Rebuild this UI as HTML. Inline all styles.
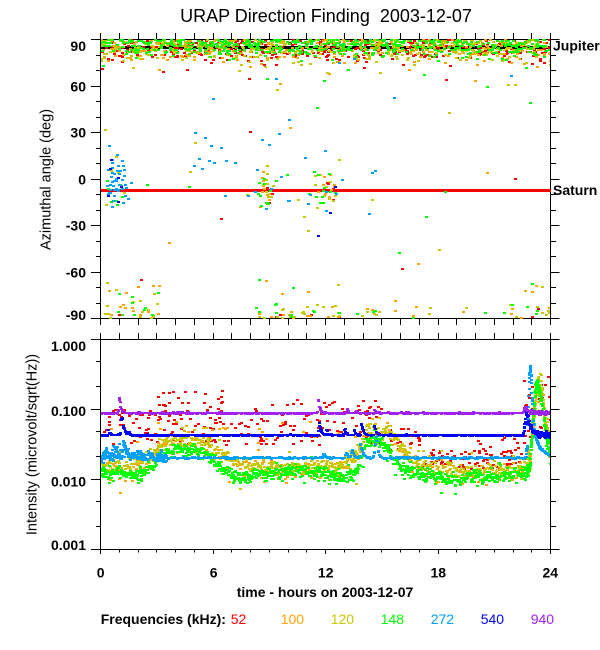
<!DOCTYPE html>
<html><head><meta charset="utf-8">
<style>
html,body{margin:0;padding:0;background:#fff;width:600px;height:650px;overflow:hidden;}
svg{display:block;}
text{font-family:"Liberation Sans",Arial,sans-serif;}
</style></head>
<body>
<svg id="c" width="600" height="650" viewBox="0 0 600 650" xmlns="http://www.w3.org/2000/svg">
<defs>
<clipPath id="cp1"><rect x="101" y="38" width="449" height="283"/></clipPath>
<clipPath id="cp2"><rect x="101" y="339" width="449" height="211"/></clipPath>
</defs>
<rect width="600" height="650" fill="#fff"/>

<g fill="none" stroke="#000" stroke-width="1" shape-rendering="crispEdges">
<path d="M100.5 39.5H550.5V318.5H100.5Z"/>
<path d="M100.5 33V39.5M119.5 33V39.5M138.5 33V39.5M156.5 33V39.5M175.5 33V39.5M194.5 33V39.5M213.5 33V39.5M231.5 33V39.5M250.5 33V39.5M269.5 33V39.5M288.5 33V39.5M306.5 33V39.5M325.5 33V39.5M344.5 33V39.5M363.5 33V39.5M381.5 33V39.5M400.5 33V39.5M419.5 33V39.5M438.5 33V39.5M456.5 33V39.5M475.5 33V39.5M494.5 33V39.5M513.5 33V39.5M531.5 33V39.5M550.5 33V39.5"/>
<path d="M100.5 318.5V325M119.5 318.5V325M138.5 318.5V325M156.5 318.5V325M175.5 318.5V325M194.5 318.5V325M213.5 318.5V325M231.5 318.5V325M250.5 318.5V325M269.5 318.5V325M288.5 318.5V325M306.5 318.5V325M325.5 318.5V325M344.5 318.5V325M363.5 318.5V325M381.5 318.5V325M400.5 318.5V325M419.5 318.5V325M438.5 318.5V325M456.5 318.5V325M475.5 318.5V325M494.5 318.5V325M513.5 318.5V325M531.5 318.5V325M550.5 318.5V325"/>
<path d="M91 39.5H100.5M91 86.5H100.5M91 132.5H100.5M91 179.5H100.5M91 225.5H100.5M91 272.5H100.5M91 318.5H100.5"/>
<path d="M96 55.5H100.5M96 70.5H100.5M96 101.5H100.5M96 117.5H100.5M96 148.5H100.5M96 163.5H100.5M96 194.5H100.5M96 210.5H100.5M96 241.5H100.5M96 256.5H100.5M96 287.5H100.5M96 303.5H100.5"/>
<path d="M550.5 39.5H559.5M550.5 86.5H559.5M550.5 132.5H559.5M550.5 179.5H559.5M550.5 225.5H559.5M550.5 272.5H559.5M550.5 318.5H559.5"/>
<path d="M550.5 55.5H556M550.5 70.5H556M550.5 101.5H556M550.5 117.5H556M550.5 148.5H556M550.5 163.5H556M550.5 194.5H556M550.5 210.5H556M550.5 241.5H556M550.5 256.5H556M550.5 287.5H556M550.5 303.5H556"/>
<path d="M100.5 339.5H550.5V549.5H100.5Z"/>
<path d="M100.5 333V339.5M119.5 333V339.5M138.5 333V339.5M156.5 333V339.5M175.5 333V339.5M194.5 333V339.5M213.5 333V339.5M231.5 333V339.5M250.5 333V339.5M269.5 333V339.5M288.5 333V339.5M306.5 333V339.5M325.5 333V339.5M344.5 333V339.5M363.5 333V339.5M381.5 333V339.5M400.5 333V339.5M419.5 333V339.5M438.5 333V339.5M456.5 333V339.5M475.5 333V339.5M494.5 333V339.5M513.5 333V339.5M531.5 333V339.5M550.5 333V339.5"/>
<path d="M100.5 549.5V554M213.5 549.5V554M325.5 549.5V554M438.5 549.5V554M550.5 549.5V554"/>
<path d="M119.5 549.5V552.5M138.5 549.5V552.5M156.5 549.5V552.5M175.5 549.5V552.5M194.5 549.5V552.5M231.5 549.5V552.5M250.5 549.5V552.5M269.5 549.5V552.5M288.5 549.5V552.5M306.5 549.5V552.5M344.5 549.5V552.5M363.5 549.5V552.5M381.5 549.5V552.5M400.5 549.5V552.5M419.5 549.5V552.5M456.5 549.5V552.5M475.5 549.5V552.5M494.5 549.5V552.5M513.5 549.5V552.5M531.5 549.5V552.5"/>
<path d="M91 339.5H100.5M91 409.5H100.5M91 479.5H100.5M91 549.5H100.5"/>
<path d="M96 361.5H100.5M96 386.5H100.5M96 431.5H100.5M96 456.5H100.5M96 501.5H100.5M96 526.5H100.5"/>
<path d="M550.5 339.5H559.5M550.5 409.5H559.5M550.5 479.5H559.5M550.5 549.5H559.5"/>
<path d="M550.5 361.5H556M550.5 386.5H556M550.5 431.5H556M550.5 456.5H556M550.5 501.5H556M550.5 526.5H556"/>
</g>

<rect x="101" y="46" width="449" height="3" fill="#000" shape-rendering="crispEdges"/>
<rect x="101" y="189" width="450" height="3" fill="#ff0000" shape-rendering="crispEdges"/>

<g id="d1" clip-path="url(#cp1)" shape-rendering="crispEdges"></g>
<g id="d2" clip-path="url(#cp2)" shape-rendering="crispEdges"></g>

<g fill="#000">
<text x="326" y="22" font-size="18" text-anchor="middle">URAP Direction Finding&#160; 2003-12-07</text>

<g font-size="14" font-weight="bold" text-anchor="end">
<text x="86" y="51">90</text>
<text x="86" y="91.5">60</text>
<text x="86" y="137.5">30</text>
<text x="86" y="184.5">0</text>
<text x="86" y="230.5">-30</text>
<text x="86" y="277.5">-60</text>
<text x="86" y="320">-90</text>
<text x="86" y="351">1.000</text>
<text x="86" y="416">0.100</text>
<text x="86" y="486.5">0.010</text>
<text x="86" y="550">0.001</text>
</g>

<g font-size="14" font-weight="bold" text-anchor="middle">
<text x="100.7" y="577.5">0</text>
<text x="213.7" y="577.5">6</text>
<text x="325.7" y="577.5">12</text>
<text x="438.3" y="577.5">18</text>
<text x="550.3" y="577.5">24</text>
<text x="325" y="597">time - hours on 2003-12-07</text>
</g>

<text x="553" y="50.5" font-size="14" font-weight="bold">Jupiter</text>
<text x="553" y="195" font-size="14" font-weight="bold">Saturn</text>

<text transform="translate(50.5,179.5) rotate(-90)" text-anchor="middle" font-size="14.5">Azimuthal angle (deg)</text>
<text transform="translate(36.7,444.5) rotate(-90)" text-anchor="middle" font-size="14.5">Intensity (microvolt/sqrt(Hz))</text>

<text x="100.7" y="624" font-size="14" font-weight="bold">Frequencies (kHz):</text>
<g font-size="14">
<text x="230.7" y="624" fill="#ff0000">52</text>
<text x="280.7" y="624" fill="#ffa500">100</text>
<text x="330.7" y="624" fill="#c8c800">120</text>
<text x="380.7" y="624" fill="#00ff00">148</text>
<text x="430.7" y="624" fill="#00a0ff">272</text>
<text x="480.7" y="624" fill="#0000ff">540</text>
<text x="530.7" y="624" fill="#a020f0">940</text>
</g>
</g>
</svg>
<script>
(function(){
var s=123456789;
function R(){ s^=s<<13; s^=s>>>17; s^=s<<5; return (s>>>0)/4294967296; }
function G(){ var u=R(); if(u<1e-9)u=1e-9; return Math.sqrt(-2*Math.log(u))*Math.cos(6.2831853*R()); }
var RED='#ff0000',ORA='#ffa500',YEL='#c8c800',GRN='#00ff00',CYA='#00a0ff',BLU='#0000ff',PUR='#a020f0';
var order=[RED,ORA,YEL,GRN,CYA,BLU,PUR];
var L1={},L2={};
function put(L,c,x,y){ x=Math.round(x)-1; y=Math.round(y)-1; (L[c]||(L[c]=[])).push('M'+x+' '+y+'h3v2h-3z'); }
function X(h){ return 100.5+h*18.75; }
function YA(a){ return 39.5+(90-a)*1.55; }
function YI(v){ return 339.5-Math.log(v)/Math.LN10*70; }
function A(c,h,a){ put(L1,c,X(h),YA(a)); }

/* ---------- top panel ---------- */
function band(c,n,mu,sd){ for(var i=0;i<n;i++){ var a=mu+G()*sd; if(a>90)a=180-a; A(c,R()*24,a);} }
band(RED,380,83.5,4.3);
band(ORA,320,84.5,4.5);
band(YEL,400,84.5,4.5);
band(GRN,520,86,4.0);
function scat(c,n,h0,h1,a0,a1){ for(var i=0;i<n;i++) A(c,h0+R()*(h1-h0),a0+R()*(a1-a0)); }
scat(RED,6,0,24,62,78); scat(ORA,7,0,24,60,78); scat(YEL,8,0,24,55,78); scat(GRN,7,0,24,58,78); scat(CYA,6,0,24,50,78);
scat(YEL,8,0,24,-75,50); scat(GRN,8,0,24,-75,50); scat(ORA,6,0,24,-75,50); scat(RED,4,0,24,-60,40); scat(CYA,6,0,24,-50,40);
function gc(c,n,h0,hs,a0,as){ for(var i=0;i<n;i++) A(c,h0+G()*hs,a0+G()*as); }
gc(CYA,45,0.85,0.35,-3,9);
gc(GRN,9,0.8,0.4,-8,8);
gc(YEL,6,0.6,0.4,-5,10);
gc(BLU,6,1.0,0.4,-5,9);
scat(CYA,30,5,13,-25,30);
gc(YEL,12,8.9,0.2,-6,6); gc(GRN,12,8.9,0.2,-8,6); gc(ORA,8,8.9,0.2,-6,6); gc(RED,3,8.9,0.2,-8,6);
gc(YEL,14,11.9,0.5,-8,8); gc(GRN,12,11.9,0.5,-8,7); gc(ORA,8,11.9,0.5,-8,8); gc(RED,4,11.9,0.5,-10,8); gc(BLU,3,12.2,0.4,-10,10);
function low(c,n,h0,h1){ for(var i=0;i<n;i++){ var a=-90+Math.abs(G())*5; if(R()<0.25)a=-90+R()*25; A(c,h0+R()*(h1-h0),a);} }
low(YEL,16,0.2,3.3); low(ORA,12,0.2,3.3); low(GRN,10,0.2,3.3); low(RED,2,0.2,3.3);
low(YEL,18,8.3,12.8); low(ORA,15,8.3,12.8); low(GRN,12,8.3,12.8); low(RED,4,8.3,12.8);
low(YEL,5,13.5,16); low(ORA,4,13.5,16); low(GRN,3,13.5,16);
low(YEL,3,16,21); low(ORA,3,16,21); low(GRN,2,16,21);
low(YEL,8,21.5,24); low(ORA,7,21.5,24); low(GRN,6,21.5,24); low(RED,2,21.5,24);

/* ---------- bottom panel ---------- */
function spk(h,S){ var v=0; for(var i=0;i<S.length;i++){ var p=S[i],d=h-p[0]; if(d<0){ var q=d/p[2]; v+=p[1]*Math.exp(-q*q);} else v+=p[1]*Math.exp(-d/p[3]); } return v; }
function lineS(c,b,S,nz,per){ for(var x=101;x<=550;x++){ var hh=(x-100.5)/18.75; var n=per(hh); for(var k=0;k<n;k++){ var h=(x-100.5+(R()-0.5))/18.75; var y=YI(b+spk(h,S))+G()*nz(h); put(L2,c,x,y);} } }
function interp(K,h){ if(h<=K[0][0]) return K[0][1]; for(var i=1;i<K.length;i++){ if(h<=K[i][0]){ var t=(h-K[i-1][0])/(K[i][0]-K[i-1][0]); return K[i-1][1]+t*(K[i][1]-K[i-1][1]); } } return K[K.length-1][1]; }
function bandS(c,K,off,per,sd,op,osd){ for(var x=101;x<=550;x++){ var hh=(x-100.5)/18.75; var p=per(hh); var n=Math.floor(p)+(R()<p-Math.floor(p)?1:0); for(var k=0;k<n;k++){ var h=(x-100.5+(R()-0.5))/18.75; var y=interp(K,h)+off+G()*sd; if(R()<op) y+=G()*osd; put(L2,c,x,y);} } }
function rs(c,n,h0,h1,y0,y1){ for(var i=0;i<n;i++) put(L2,c,X(h0+R()*(h1-h0)),y0+R()*(y1-y0)); }

var Gk=[[0,472],[0.5,474],[1,471],[1.5,475],[2,476],[2.5,468],[3,462],[3.5,453],[4,450],[5,450],[5.5,452],[6,460],[6.5,470],[7,476],[7.5,478],[8,475],[9,473],[10,472],[11,472],[12,474],[12.5,476],[13,477],[13.5,474],[13.8,462],[14.1,445],[14.5,440],[14.9,441],[15.2,447],[15.6,460],[16,469],[16.5,472],[17,475],[18,477],[19,479],[20,478],[21,476],[22,475],[22.7,473],[22.9,465],[23.05,420],[23.2,383],[23.4,392],[23.6,415],[23.8,440],[24,456]];
var Yk=[[0,462],[0.5,464],[1,466],[1.5,466],[2,463],[2.5,458],[3,450],[3.5,443],[4,440],[5,440],[5.5,443],[6,450],[6.5,456],[7,461],[7.5,464],[8,466],[9,467],[10,468],[11,467],[12,467],[12.5,466],[13,463],[13.5,458],[13.8,447],[14.1,432],[14.5,426],[15,428],[15.5,435],[16,446],[16.5,455],[17,462],[18,467],[19,470],[20,471],[21,470],[22,470],[22.7,468],[22.9,455],[23.1,410],[23.3,383],[23.5,390],[23.7,415],[23.9,440],[24,447]];

rs(RED,40,0,3,410,445); rs(RED,75,3,6.5,390,445); rs(RED,15,6.5,8,420,445); rs(RED,55,8,12,400,445);
rs(RED,45,12,15,400,445); rs(RED,20,15,17,428,452); rs(RED,80,17,22.5,450,470); rs(RED,15,20,22.8,437,455); rs(RED,25,22.5,24,372,440);
bandS(ORA,Yk,4,function(h){return h>22.7?2:0.7;},5.5,0.06,12);
rs(ORA,25,0,15,420,450);
bandS(YEL,Yk,0,function(h){return h>22.7?5:1.4;},4,0.06,10);
bandS(GRN,Gk,0,function(h){return h>22.7?6:2.3;},3.4,0.05,8);
lineS(CYA,0.0203,[[0.3,0.005,0.1,0.2],[0.8,0.006,0.05,0.1],[1.2,0.017,0.04,0.12],[1.8,0.004,0.1,0.2],[2.6,0.003,0.1,0.2],[11.9,0.003,0.05,0.1],[13.1,0.004,0.05,0.08],[13.4,0.007,0.04,0.08],[13.85,0.013,0.04,0.1],[14.75,0.021,0.12,0.05],[22.92,0.40,0.1,0.06],[23.05,0.025,0.05,0.35]],
  function(h){return h<3.5?2.2:0.4;}, function(h){return h<3.5?3:(h>22.6?5:2);});
rs(CYA,30,0,3.5,444,462);
lineS(BLU,0.0428,[[0.4,0.009,0.03,0.08],[1.12,0.033,0.04,0.1],[1.5,0.005,0.03,0.05],[11.65,0.021,0.03,0.1],[12.05,0.008,0.03,0.05],[13.0,0.012,0.03,0.08],[13.5,0.011,0.03,0.06],[13.9,0.022,0.03,0.08],[14.6,0.015,0.03,0.1],[22.72,0.045,0.12,0.18]],
  function(h){return h>22.5?1.5:0.35;}, function(h){return h>22.5?4:2;});
lineS(PUR,0.0885,[[1.0,0.055,0.04,0.07],[4.27,0.005,0.04,0.08],[11.6,0.05,0.04,0.07],[13.15,0.012,0.03,0.05],[13.6,0.01,0.03,0.05],[14.58,0.014,0.03,0.05],[22.65,0.022,0.08,0.12]],
  function(h){return h>22.8?0.9:0.35;}, function(h){return 2;});

function flush(L,id){ var g=document.getElementById(id); for(var i=0;i<order.length;i++){ var c=order[i]; if(L[c]){ var p=document.createElementNS('http://www.w3.org/2000/svg','path'); p.setAttribute('fill',c); p.setAttribute('d',L[c].join('')); g.appendChild(p);} } }
flush(L1,'d1'); flush(L2,'d2');
})();
</script>
</body></html>
